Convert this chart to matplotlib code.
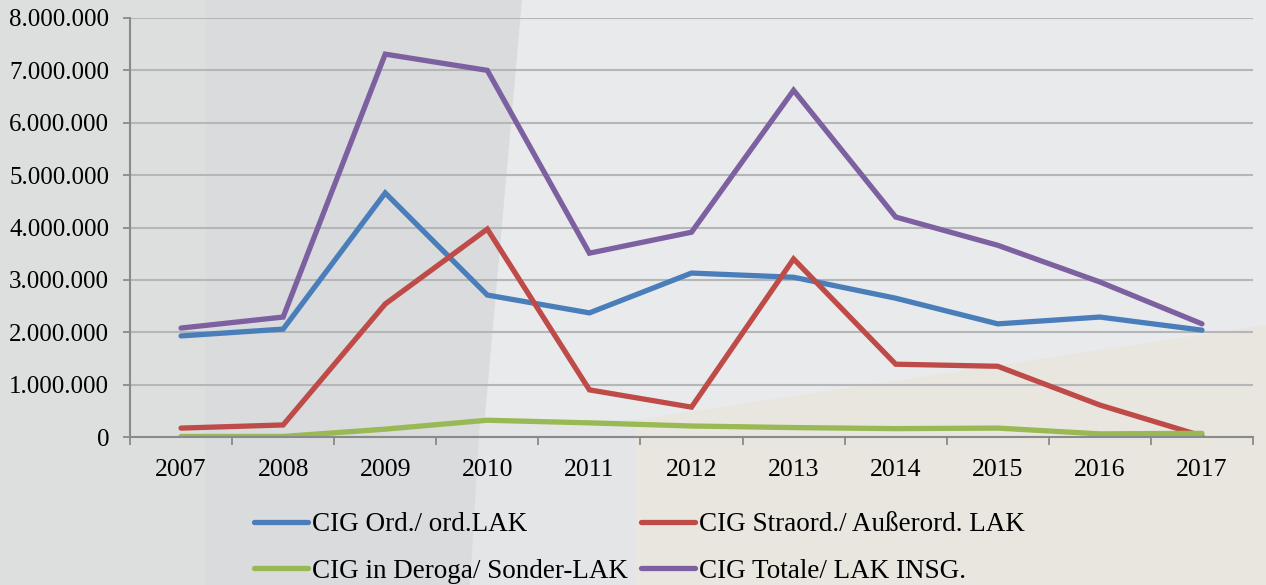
import numpy as np
import matplotlib.pyplot as plt
from matplotlib.patches import Polygon
from matplotlib.ticker import FuncFormatter

years = ['2007', '2008', '2009', '2010', '2011', '2012', '2013', '2014', '2015', '2016', '2017']
ordinary = [1930000, 2060000, 4660000, 2710000, 2370000, 3130000, 3050000, 2650000, 2160000, 2290000, 2040000]
extraord = [170000, 230000, 2540000, 3970000, 900000, 570000, 3400000, 1390000, 1350000, 610000, 20000]
deroga = [10000, 10000, 150000, 320000, 270000, 210000, 180000, 160000, 170000, 60000, 70000]
total = [2080000, 2290000, 7310000, 7000000, 3510000, 3910000, 6620000, 4200000, 3660000, 2960000, 2160000]

labels = ['CIG Ord./ ord.LAK', 'CIG Straord./ Außerord. LAK',
          'CIG in Deroga/ Sonder-LAK', 'CIG Totale/ LAK INSG.']
colors = ['#4a7ebb', '#be4b48', '#98b954', '#7d60a0']

plt.rcParams['font.family'] = ['Liberation Serif', 'DejaVu Serif']

fig = plt.figure(figsize=(12.66, 5.85), dpi=100)
fig.patch.set_facecolor('#e9eaec')

# background decoration (soft panels of the slide)
bg = fig.add_axes([0, 0, 1, 1], zorder=-10)
bg.set_xlim(0, 1266)
bg.set_ylim(585, 0)
bg.axis('off')
bg.add_patch(Polygon([[0, 0], [205, 0], [205, 585], [0, 585]], color='#dddede', lw=0))
bg.add_patch(Polygon([[205, 0], [522, 0], [470, 585], [205, 585]], color='#d9dbdd', lw=0))
bg.add_patch(Polygon([[470, 585], [480, 420], [635, 420], [635, 585]], color='#e4e5e6', lw=0))
bg.add_patch(Polygon([[635, 585], [635, 420], [1266, 325], [1266, 585]], color='#e9e6e0', lw=0))

ax = fig.add_axes([130 / 1266, 1 - 437 / 585, 1123 / 1266, 419 / 585])
ax.set_facecolor('none')
x = np.arange(len(years))
lines = []
for vals, c, lab in zip([ordinary, extraord, deroga, total], colors, labels):
    ln, = ax.plot(x, vals, color=c, lw=3.8, label=lab, solid_capstyle='round', solid_joinstyle='miter')
    lines.append(ln)

ax.set_xlim(-0.5, len(years) - 0.5)
ax.set_ylim(0, 8000000)
ax.set_yticks(np.arange(0, 8000001, 1000000))
ax.yaxis.set_major_formatter(FuncFormatter(lambda v, p: f'{int(v):,}'.replace(',', '.')))
ax.set_xticks(x)
ax.set_xticklabels(years)
ax.set_xticks(np.arange(-0.5, len(years)), minor=True)
ax.tick_params(axis='x', which='major', length=0, pad=16, labelsize=18.5)
ax.tick_params(axis='x', which='minor', length=6, width=1.3, color='#8a8a8a')
ax.tick_params(axis='y', length=5, width=1.3, color='#8a8a8a', labelsize=18, pad=10)
ax.grid(axis='y', color='#b5b6b8', lw=1.5)
ax.set_axisbelow(True)
for s in ['top', 'right']:
    ax.spines[s].set_visible(False)
for s in ['left', 'bottom']:
    ax.spines[s].set_color('#8a8a8a')
    ax.spines[s].set_linewidth(1.5)

# row-major order like the original: Ord, Straord / Deroga, Totale
order = [0, 2, 1, 3]
fig.legend([lines[i] for i in order], [labels[i] for i in order],
           loc='center', bbox_to_anchor=(0.505, 0.063), ncol=2, frameon=False,
           fontsize=19.5, handlelength=2.0, handletextpad=0.12, columnspacing=0.5,
           labelspacing=0.8)

fig.savefig('out.png', dpi=100, facecolor=fig.get_facecolor())
